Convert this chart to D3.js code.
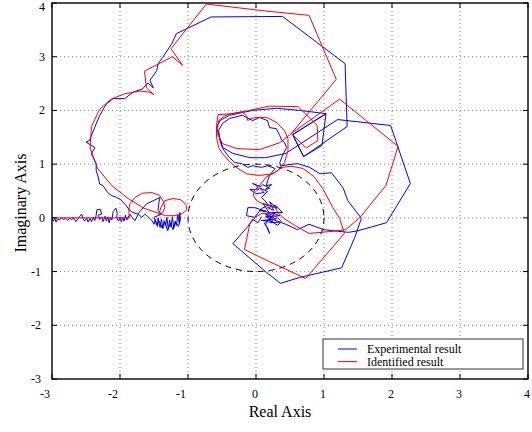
<!DOCTYPE html>
<html>
<head>
<meta charset="utf-8">
<script src="https://cdn.jsdelivr.net/npm/d3@7"></script>
<style>
body { margin: 0; background: #fff; }
svg { display: block; font-family: "Liberation Serif", "Times New Roman", serif; }
</style>
</head>
<body>
<svg id="chart"></svg>
<script>
// axis ticks
var xTicks = [-3, -2, -1, 0, 1, 2, 3, 4];
var yTicks = [-3, -2, -1, 0, 1, 2, 3, 4];
var legendLabels = ["Experimental result", "Identified result"];
var seriesColors = ["#0000ff", "#ff0000"];
var unitRadius = 1;

// measured response [Re, Im]
var experimental = [
  [-3.18,-0.02],[-3.00,-0.02],[-2.98,-0.06],[-2.96,0.00],[-2.94,-0.08],[-2.92,-0.02],[-2.89,-0.04],[-2.86,0.00],
  [-2.83,-0.03],[-2.80,-0.01],[-2.77,-0.05],[-2.74,-0.01],[-2.71,-0.03],[-2.68,0.00],[-2.65,-0.07],[-2.62,-0.02],
  [-2.59,0.03],[-2.56,0.07],[-2.55,-0.01],[-2.52,-0.06],[-2.49,0.00],[-2.47,-0.08],[-2.44,-0.01],[-2.42,-0.07],
  [-2.39,0.01],[-2.37,-0.05],[-2.35,0.05],[-2.34,0.15],[-2.29,0.16],[-2.27,0.07],[-2.32,0.05],[-2.30,-0.03],
  [-2.27,0.02],[-2.25,-0.07],[-2.22,0.03],[-2.20,-0.06],[-2.18,0.02],[-2.16,-0.09],[-2.14,0.01],[-2.12,-0.04],
  [-2.10,0.12],[-2.06,0.18],[-2.04,0.08],[-2.05,0.00],[-2.02,-0.06],[-2.00,0.02],[-1.98,-0.08],[-1.96,0.01],
  [-1.94,-0.06],[-1.92,0.05],[-1.90,-0.04],[-1.88,0.01],[-1.85,0.07],[-1.83,0.02],
  [-1.78,-0.05],[-1.73,0.07],[-1.68,0.01],[-1.63,0.07],[-1.58,0.01],[-1.53,-0.05],
  [-1.50,-0.12],[-1.48,-0.03],[-1.45,-0.16],[-1.44,0.00],[-1.41,-0.18],[-1.39,-0.02],[-1.37,-0.20],[-1.35,-0.05],
  [-1.33,-0.15],[-1.31,0.01],[-1.29,-0.21],[-1.27,-0.04],[-1.25,-0.17],[-1.23,0.02],[-1.21,-0.19],[-1.19,-0.06],
  [-1.17,-0.14],[-1.15,0.06],[-1.13,-0.09],[-1.12,0.10],[-1.11,-0.03],[-1.14,-0.16],[-1.18,-0.08],[-1.22,-0.22],
  [-1.26,-0.10],[-1.30,-0.24],[-1.34,-0.08],[-1.38,-0.19],[-1.42,-0.06],[-1.46,-0.13],[-1.50,0.01],
  [-1.39,0.07],[-1.44,0.14],[-1.43,0.27],[-1.41,0.38],[-1.46,0.35],[-1.61,0.26],[-1.74,0.07],[-1.81,0.10],
  [-1.86,0.14],[-1.91,0.23],[-2.00,0.35],[-2.05,0.38],[-2.13,0.42],[-2.18,0.47],[-2.25,0.60],[-2.30,0.63],
  [-2.32,0.76],[-2.35,0.88],[-2.35,1.01],[-2.42,1.19],[-2.37,1.31],[-2.50,1.41],[-2.45,1.44],[-2.37,1.69],
  [-2.30,1.90],[-2.23,2.06],[-2.20,2.12],[-2.10,2.22],[-1.93,2.22],[-1.81,2.34],[-1.67,2.40],[-1.59,2.51],
  [-1.51,2.42],[-1.56,2.56],[-1.46,2.74],[-1.44,2.87],[-1.37,2.99],[-1.24,3.24],[-1.17,3.43],[-1.02,3.52],
  [-0.66,3.74],
  [0.39,3.75],[1.31,2.87],[1.34,1.70],[0.70,1.14],[0.54,1.55],[1.03,1.94],[0.97,1.35],[0.70,1.14],[0.54,1.55],
  [1.03,1.94],[0.64,2.00],[0.30,2.04],[-0.05,2.00],[-0.20,1.96],[-0.39,1.91],[-0.53,1.81],[-0.58,1.68],
  [-0.53,1.48],[-0.49,1.31],[-0.34,1.20],[-0.09,1.12],[0.14,1.12],[0.44,1.20],[1.20,1.83],[1.98,1.72],
  [2.27,0.64],[1.92,-0.09],[1.50,-0.24],[1.36,-0.27],[1.00,-0.22],[0.78,-0.12],[0.61,-0.22],[0.44,-0.12],
  [0.14,0.02],
  [0.35,0.04],[0.23,0.10],[0.39,0.10],[0.29,0.23],[0.17,0.19],[0.26,0.14],[0.20,0.30],[0.31,0.18],[0.10,0.27],
  [0.22,0.05],[0.14,0.06],[0.30,-0.02],[0.08,-0.05],[0.25,-0.06],[0.20,-0.09],[0.36,-0.08],[0.32,-0.14],
  [0.18,-0.03],[0.23,0.02],[0.12,-0.10],[0.17,-0.18],[0.20,-0.29],[0.14,-0.12],[0.27,0.08],[0.05,0.14],
  [0.15,0.12],[-0.02,0.19],[-0.12,0.19],[-0.14,0.04],[-0.02,0.01],[0.08,0.17],[0.18,0.24],[0.13,0.32],
  [0.08,0.38],
  [0.17,0.49],[0.05,0.56],[0.12,0.47],[0.00,0.45],[-0.09,0.53],[0.04,0.52],[0.01,0.60],[-0.05,0.64],
  [0.07,0.58],[0.10,0.62],[0.20,0.55],[0.14,0.53],[0.23,0.62],[0.15,0.60],[0.17,0.69],[0.20,0.79],[0.28,0.92],
  [0.17,0.97],[0.08,0.94],[-0.05,0.97],[-0.12,0.94],[-0.21,1.01],[-0.31,1.03],[-0.39,1.12],[-0.49,1.29],
  [-0.53,1.44],[-0.55,1.63],[-0.49,1.76],[-0.39,1.85],[-0.20,1.91],[-0.05,1.81],[0.05,1.87],[0.17,1.81],
  [0.20,1.68],[0.30,1.66],[0.35,1.53],[0.38,1.44],[0.42,1.40],[0.45,1.31],[0.39,1.16],[0.35,1.03],[0.36,0.97],
  [0.61,1.01],[0.79,0.94],[0.94,0.82],[1.11,0.84],[1.28,0.56],[1.35,0.32],[1.55,-0.01],[1.45,-0.37],
  [1.26,-0.93],[0.64,-1.11],[0.36,-1.22],[0.14,-1.00],[-0.34,-0.48],[-0.12,-0.16],[-0.05,-0.03],[0.03,-0.09],
  [0.08,0.02]
];

// identified model [Re, Im]
var identified = [
  [-3.18,0.00],[-2.45,0.00],[-1.86,0.00],
  [-1.87,0.10],[-1.86,0.25],[-1.78,0.38],[-1.67,0.46],[-1.53,0.47],[-1.42,0.42],[-1.36,0.30],[-1.34,0.19],
  [-1.37,0.10],[-1.43,0.05],
  [-1.40,0.19],[-1.34,0.32],[-1.22,0.36],[-1.11,0.34],[-1.03,0.25],[-1.02,0.15],[-1.08,0.08],[-1.20,0.04],
  [-1.33,0.04],[-1.42,0.08],
  [-1.65,0.18],[-1.88,0.36],[-2.12,0.60],[-2.33,0.92],[-2.44,1.30],[-2.42,1.70],[-2.30,2.02],[-2.13,2.21],
  [-1.93,2.31],[-1.71,2.36],[-1.56,2.34],[-1.50,2.29],
  [-1.61,2.42],[-1.64,2.73],[-1.23,3.00],[-1.08,2.84],[-1.25,3.15],[-0.73,3.98],[0.15,3.85],[0.78,3.77],
  [1.18,2.58],[0.52,1.57],
  [0.35,1.40],[0.05,1.27],[-0.28,1.29],[-0.49,1.38],[-0.58,1.59],[-0.55,1.81],[-0.46,1.90],[-0.36,1.94],
  [-0.20,1.97],[-0.14,1.90],[-0.12,1.81],[-0.08,1.85],[0.01,1.87],[0.16,1.87],[0.31,1.77],[0.42,1.62],
  [0.47,1.48],[0.47,1.25],[0.42,1.03],
  [0.32,0.88],[0.15,0.76],[0.05,0.60],[-0.02,0.51],[-0.04,0.42],[0.01,0.32],[0.10,0.26],[0.20,0.23],
  [0.28,0.20],[0.32,0.10],[0.42,-0.02],[0.57,-0.14],[0.78,-0.29],
  [1.13,-0.25],[1.32,-0.22],[1.54,0.02],[1.67,0.23],[1.91,0.60],[2.09,1.33],[1.23,2.21],[0.52,1.57],
  [0.74,1.30],[0.91,1.44],[0.90,1.72],[0.62,2.07],[0.20,2.08],[-0.14,1.99],[-0.36,1.94],[-0.56,1.92],
  [-0.58,1.72],[-0.58,1.50],[-0.55,1.31],[-0.49,1.19],[-0.39,1.05],[-0.29,0.94],[-0.14,0.82],[0.05,0.79],
  [0.25,0.82],[0.38,0.94],
  [0.53,0.96],[0.69,0.92],[0.85,0.77],[0.98,0.55],[1.13,0.19],[1.23,-0.01],[1.30,-0.29],[0.73,-1.13],
  [0.14,-0.78],[-0.17,-0.59],[-0.09,-0.11],[0.00,0.02],[0.08,0.08],[0.20,0.08],[0.30,0.02],[0.38,-0.07]
];

var totalWidth = 532, totalHeight = 432;
var margins = {top: 3, right: 4, bottom: 53, left: 52};
var width = totalWidth - margins.left - margins.right;
var height = totalHeight - margins.top - margins.bottom;

var svg = d3.select("#chart")
    .attr("width", totalWidth)
    .attr("height", totalHeight);

svg.append("rect").attr("width", totalWidth).attr("height", totalHeight).attr("fill", "#fff");

var x = d3.scaleLinear().domain([-3, 4]).range([margins.left, margins.left + width]);
var y = d3.scaleLinear().domain([-3, 4]).range([margins.top + height, margins.top]);

svg.append("clipPath").attr("id", "plotClip")
  .append("rect")
    .attr("x", x(-3)).attr("y", y(4))
    .attr("width", width).attr("height", height);

// dotted grid
var grid = svg.append("g").attr("stroke", "#666").attr("stroke-width", 0.8).attr("stroke-dasharray", "1,3");
grid.selectAll("line.gx").data(xTicks.slice(1, -1)).join("line").attr("class", "gx")
    .attr("x1", d => x(d)).attr("x2", d => x(d))
    .attr("y1", y(4)).attr("y2", y(-3));
grid.selectAll("line.gy").data(yTicks.slice(1, -1)).join("line").attr("class", "gy")
    .attr("y1", d => y(d)).attr("y2", d => y(d))
    .attr("x1", x(-3)).attr("x2", x(4));

var plot = svg.append("g").attr("clip-path", "url(#plotClip)");

var line = d3.line().x(d => x(d[0])).y(d => y(d[1]));

plot.append("path")
    .datum(experimental)
    .attr("d", line)
    .attr("fill", "none")
    .attr("stroke", seriesColors[0])
    .attr("stroke-width", 1)
    .attr("stroke-linejoin", "round");

plot.append("path")
    .datum(identified)
    .attr("d", line)
    .attr("fill", "none")
    .attr("stroke", seriesColors[1])
    .attr("stroke-width", 1)
    .attr("stroke-linejoin", "round");

// unit circle
plot.append("ellipse")
    .attr("cx", x(0)).attr("cy", y(0))
    .attr("rx", x(unitRadius) - x(0))
    .attr("ry", y(0) - y(unitRadius))
    .attr("fill", "none")
    .attr("stroke", "#000")
    .attr("stroke-width", 1)
    .attr("stroke-dasharray", "6,5");

// axes box and inner ticks
var axes = svg.append("g").attr("stroke", "#000");
axes.append("rect")
    .attr("x", x(-3)).attr("y", y(4))
    .attr("width", width).attr("height", height)
    .attr("fill", "none").attr("stroke-width", 1.4);

var tickLen = 5;
xTicks.forEach(function(t) {
    axes.append("line").attr("x1", x(t)).attr("x2", x(t)).attr("y1", y(-3)).attr("y2", y(-3) - tickLen);
    axes.append("line").attr("x1", x(t)).attr("x2", x(t)).attr("y1", y(4)).attr("y2", y(4) + tickLen);
});
yTicks.forEach(function(t) {
    axes.append("line").attr("y1", y(t)).attr("y2", y(t)).attr("x1", x(-3)).attr("x2", x(-3) + tickLen);
    axes.append("line").attr("y1", y(t)).attr("y2", y(t)).attr("x1", x(4)).attr("x2", x(4) - tickLen);
});

// tick labels
svg.append("g").attr("font-size", 12).attr("fill", "#000")
  .selectAll("text").data(xTicks).join("text")
    .attr("x", d => d < 0 ? x(d) - 2 : x(d) - 1)
    .attr("y", y(-3) + 19)
    .attr("text-anchor", d => d < 0 ? "end" : "middle")
    .text(d => d);

svg.append("g").attr("font-size", 12).attr("fill", "#000")
  .selectAll("text").data(yTicks).join("text")
    .attr("x", d => d < 0 ? x(-3) - 11 : x(-3) - 7)
    .attr("y", d => Math.max(y(d) + 4, 11))
    .attr("text-anchor", "end")
    .text(d => d);

// axis titles
svg.append("text")
    .attr("x", 280).attr("y", 417)
    .attr("text-anchor", "middle")
    .attr("font-size", 16)
    .text("Real Axis");

svg.append("text")
    .attr("transform", "translate(26,203) rotate(-90)")
    .attr("text-anchor", "middle")
    .attr("font-size", 16)
    .text("Imaginary Axis");

// legend
var legend = svg.append("g").attr("transform", "translate(323,339)");
legend.append("rect")
    .attr("width", 200).attr("height", 30)
    .attr("fill", "#fff").attr("stroke", "#333").attr("stroke-width", 1);
legendLabels.forEach(function(label, i) {
    var ly = 10 + i * 12.6;
    legend.append("line")
        .attr("x1", 15).attr("x2", 34)
        .attr("y1", ly).attr("y2", ly)
        .attr("stroke", seriesColors[i]).attr("stroke-width", 1);
    legend.append("text")
        .attr("x", 44).attr("y", ly + 4)
        .attr("font-size", 12)
        .text(label);
});
</script>
</body>
</html>
